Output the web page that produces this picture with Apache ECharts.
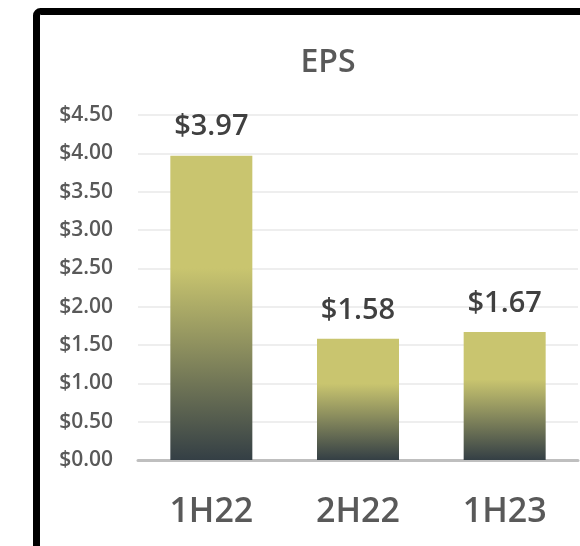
<!DOCTYPE html>
<html>
<head>
<meta charset="utf-8">
<style>
  html, body { margin: 0; padding: 0; background: #fff; }
  #chart { width: 580px; height: 546px; }
</style>
<script src="https://cdn.jsdelivr.net/npm/echarts@6/dist/echarts.min.js"></script>
</head>
<body>
<div id="chart"></div>
<script>
// data
const categories = ["1H22", "2H22", "1H23"];
const epsValues = [3.97, 1.58, 1.67];
const yTicks = { min: 0, max: 4.5, interval: 0.5 };

const fontFamily = "'Open Sans', 'Noto Sans', sans-serif";
const chart = echarts.init(document.getElementById("chart"));

// bar fill: yellow on the upper part, fading to dark slate at the base
const barFill = new echarts.graphic.LinearGradient(0, 0, 0, 1, [
  { offset: 0, color: "#c9c56f" },
  { offset: 0.37, color: "#c9c56f" },
  { offset: 0.62, color: "#8f915f" },
  { offset: 1, color: "#343f45" },
]);

const option = {
  animation: false,
  backgroundColor: "#fff",
  // black frame, only top and left visible
  graphic: [
    {
      type: "rect",
      shape: { x: 36.5, y: 11.5, width: 800, height: 800, r: 4 },
      style: { fill: "none", stroke: "#000", lineWidth: 7 },
      silent: true,
    },
  ],
  title: {
    text: "EPS",
    left: 323,
    textAlign: "center",
    top: 42,
    textStyle: {
      fontFamily: fontFamily,
      fontSize: 32,
      fontWeight: 600,
      color: "#595959",
    },
  },
  grid: {
    left: 138,
    right: 2,
    top: 115,
    bottom: 86,
    containLabel: false,
  },
  xAxis: {
    type: "category",
    data: categories,
    axisLine: { show: true, lineStyle: { color: "#bfbfbf", width: 3 } },
    axisTick: { show: false },
    axisLabel: {
      margin: 35,
      fontFamily: fontFamily,
      fontSize: 34,
      fontWeight: 600,
      color: "#595959",
    },
  },
  yAxis: {
    type: "value",
    min: yTicks.min,
    max: yTicks.max,
    interval: yTicks.interval,
    axisLine: { show: false },
    axisTick: { show: false },
    splitLine: { lineStyle: { color: "#eeeeee", width: 2 } },
    axisLabel: {
      margin: 25,
      fontFamily: fontFamily,
      fontSize: 21,
      fontWeight: 600,
      color: "#595959",
      formatter: (v) => "$" + v.toFixed(2),
    },
  },
  series: [
    {
      type: "bar",
      data: epsValues,
      barWidth: 82,
      itemStyle: { color: barFill },
      label: {
        show: true,
        position: "top",
        distance: 14,
        fontFamily: fontFamily,
        fontSize: 29,
        fontWeight: 600,
        color: "#404040",
        formatter: (p) => "$" + p.value.toFixed(2),
      },
    },
  ],
};

chart.setOption(option);
</script>
</body>
</html>
